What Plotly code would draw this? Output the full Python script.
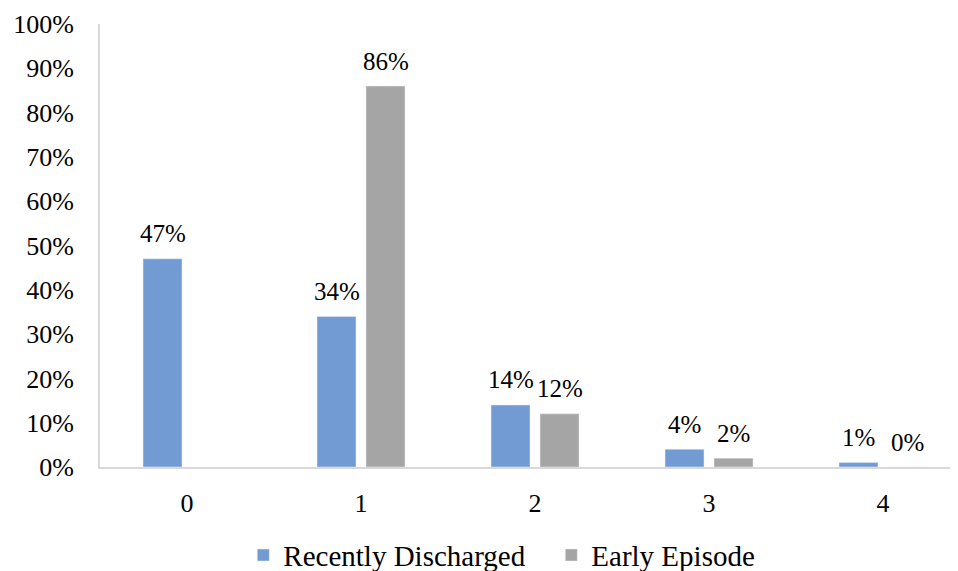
import plotly.graph_objects as go

categories = [0, 1, 2, 3, 4]
recently_discharged = [0.47, 0.34, 0.14, 0.04, 0.01]
early_episode = [None, 0.86, 0.12, 0.02, 0.00]
y_ticks = [i / 10 for i in range(11)]
y_tick_labels = [f"{i*10}%" for i in range(11)]

BLUE = "#739BD3"
GRAY = "#A5A5A5"
FONT = "Liberation Serif, Times New Roman, serif"

fig = go.Figure()
fig.add_trace(go.Bar(x=categories, y=recently_discharged, name="Recently Discharged",
                     marker_color=BLUE))
fig.add_trace(go.Bar(x=categories, y=early_episode, name="Early Episode",
                     marker_color=GRAY))

annotations = []
for series, shift in ((recently_discharged, -24.5), (early_episode, 24.5)):
    for c, v in zip(categories, series):
        if v is None:
            continue
        annotations.append(dict(x=c, y=v, xref="x", yref="y", text=f"{round(v*100)}%",
                                showarrow=False, xshift=shift, yshift=25, yanchor="middle",
                                font=dict(family=FONT, size=25, color="black")))

# page body has an 8px default margin, so the figure is 950x563
fig.update_layout(
    width=950, height=563,
    margin=dict(l=92, r=0, t=16, b=104, autoexpand=False),
    paper_bgcolor="white", plot_bgcolor="white",
    barmode="group", bargap=0.437, bargroupgap=0.204,
    font=dict(family=FONT, color="black"),
    showlegend=True,
    legend=dict(orientation="h", x=0.526, xanchor="center", y=-0.199, yanchor="middle",
                entrywidth=263,
                font=dict(family=FONT, size=29, color="black")),
    annotations=annotations,
    xaxis=dict(range=[-0.5, 4.431], tickmode="array", tickvals=categories,
               ticktext=[str(c) for c in categories], showline=True, linecolor="#D9D9D9",
               linewidth=2, showgrid=False, zeroline=False, ticks="", automargin=False,
               tickfont=dict(family=FONT, size=26, color="black"), ticklabelstandoff=12),
    yaxis=dict(range=[0, 1], tickmode="array", tickvals=y_ticks, ticktext=y_tick_labels,
               showline=True, linecolor="#D9D9D9", linewidth=2, showgrid=False,
               zeroline=False, ticks="", automargin=False,
               tickfont=dict(family=FONT, size=26, color="black"), ticklabelstandoff=19),
)

fig.write_html("out.html")
